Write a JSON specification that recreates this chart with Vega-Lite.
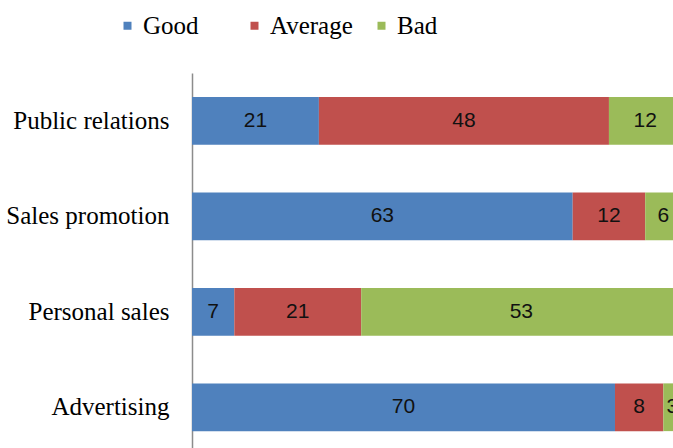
{
  "$schema": "https://vega.github.io/schema/vega-lite/v6.json",
  "width": 481,
  "height": 382,
  "autosize": {"type": "none"},
  "padding": {"left": 192, "top": 73, "right": 0, "bottom": 0},
  "background": "white",
  "config": {"view": {"stroke": null}},
  "data": {
    "values": [
      {"channel": "Public relations", "rating": "Good", "ord": 1, "value": 21},
      {"channel": "Public relations", "rating": "Average", "ord": 2, "value": 48},
      {"channel": "Public relations", "rating": "Bad", "ord": 3, "value": 12},
      {"channel": "Sales promotion", "rating": "Good", "ord": 1, "value": 63},
      {"channel": "Sales promotion", "rating": "Average", "ord": 2, "value": 12},
      {"channel": "Sales promotion", "rating": "Bad", "ord": 3, "value": 6},
      {"channel": "Personal sales", "rating": "Good", "ord": 1, "value": 7},
      {"channel": "Personal sales", "rating": "Average", "ord": 2, "value": 21},
      {"channel": "Personal sales", "rating": "Bad", "ord": 3, "value": 53},
      {"channel": "Advertising", "rating": "Good", "ord": 1, "value": 70},
      {"channel": "Advertising", "rating": "Average", "ord": 2, "value": 8},
      {"channel": "Advertising", "rating": "Bad", "ord": 3, "value": 3}
    ]
  },
  "encoding": {
    "y": {
      "field": "channel",
      "type": "nominal",
      "sort": ["Public relations", "Sales promotion", "Personal sales", "Advertising"],
      "scale": {"paddingInner": 0.5, "paddingOuter": 0.25},
      "axis": {
        "title": null,
        "ticks": false,
        "grid": false,
        "domainColor": "#8c8c8c",
        "domainWidth": 1.5,
        "labelFont": "Liberation Serif",
        "labelFontSize": 25,
        "labelColor": "#000000",
        "labelPadding": 23,
        "labelLimit": 300
      }
    },
    "x": {
      "field": "value",
      "type": "quantitative",
      "stack": "zero",
      "scale": {"domain": [0, 79.6], "nice": false},
      "axis": null
    },
    "order": {"field": "ord", "type": "quantitative"}
  },
  "layer": [
    {
      "mark": {"type": "bar", "clip": true},
      "encoding": {
        "color": {
          "field": "rating",
          "type": "nominal",
          "scale": {"domain": ["Good", "Average", "Bad"], "range": ["#4F81BD", "#C0504D", "#9BBB59"]},
          "legend": {
            "title": null,
            "orient": "none",
            "direction": "horizontal",
            "legendX": -77,
            "legendY": -60,
            "padding": 0,
            "symbolType": "square",
            "symbolSize": 64,
            "symbolStrokeWidth": 0,
            "labelFont": "Liberation Serif",
            "labelFontSize": 25,
            "labelColor": "#000000",
            "labelOffset": 3,
            "gridAlign": "all",
            "columnPadding": 16
          }
        }
      }
    },
    {
      "mark": {"type": "text", "font": "Liberation Sans", "fontSize": 21, "color": "#111111", "baseline": "middle", "align": "center", "clip": true},
      "encoding": {
        "x": {"field": "value", "type": "quantitative", "stack": "zero", "bandPosition": 0.5},
        "text": {"field": "value", "type": "quantitative"}
      }
    }
  ]
}
